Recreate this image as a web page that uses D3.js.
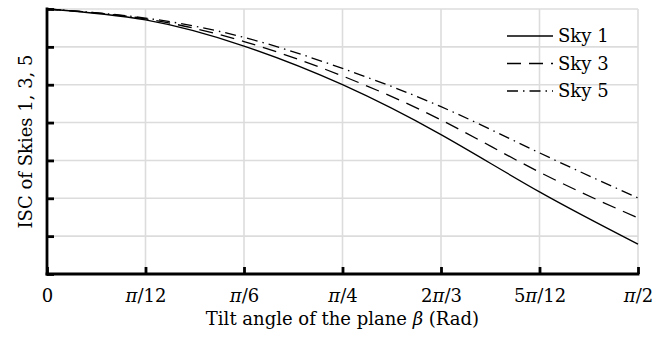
<!DOCTYPE html>
<html>
<head>
<meta charset="utf-8">
<script src="https://cdn.jsdelivr.net/npm/d3@7"></script>
<style>
body { margin: 0; background: #fff; }
svg text { font-family: "DejaVu Serif", "Liberation Serif", serif; fill: #000; }
</style>
</head>
<body>
<div id="chart"></div>
<script>
// tilt angle (multiples of pi/12) and the curves
var tiltSteps = [0, 1, 2, 3, 4, 5, 6];
var tickLabels = ["0", "π/12", "π/6", "π/4", "2π/3", "5π/12", "π/2"];
var sky1 = [1.000, 0.971, 0.902, 0.800, 0.668, 0.517, 0.379];
var sky3 = [1.000, 0.974, 0.914, 0.823, 0.707, 0.569, 0.448];
var sky5 = [1.000, 0.976, 0.925, 0.843, 0.742, 0.620, 0.501];
var yTicks = [0.3, 0.4, 0.5, 0.6, 0.7, 0.8, 0.9, 1.0];

var seriesNames = ["Sky 1", "Sky 3", "Sky 5"];
var seriesDash = [null, "14,8", "11,5,1.5,5"];

(function(){

var width = 667, height = 337;
var margin = {top: 9, right: 29, bottom: 63, left: 47};
var plotW = width - margin.left - margin.right;
var plotH = height - margin.top - margin.bottom;
var fs = 18;

var svg = d3.select("#chart").append("svg")
	.attr("width", width)
	.attr("height", height);

var g = svg.append("g")
	.attr("transform", "translate(" + margin.left + "," + margin.top + ")");

var x = d3.scaleLinear().domain([0, 6]).range([0, plotW]);
var y = d3.scaleLinear().domain([0.3, 1.0]).range([plotH, 0]);

// grid
g.append("g").selectAll("line")
	.data(tiltSteps)
	.enter().append("line")
	.attr("x1", function(d){ return x(d); })
	.attr("x2", function(d){ return x(d); })
	.attr("y1", 0)
	.attr("y2", plotH)
	.attr("stroke", "#dcdcdc")
	.attr("stroke-width", 1.6);

g.append("g").selectAll("line")
	.data(yTicks)
	.enter().append("line")
	.attr("x1", 0)
	.attr("x2", plotW)
	.attr("y1", function(d){ return y(d); })
	.attr("y2", function(d){ return y(d); })
	.attr("stroke", "#dcdcdc")
	.attr("stroke-width", 1.6);

// curves
var series = [sky1, sky3, sky5];
var line = d3.line()
	.x(function(d, i){ return x(tiltSteps[i]); })
	.y(function(d){ return y(d); })
	.curve(d3.curveNatural);

series.forEach(function(vals, i){
	g.append("path")
		.datum(vals)
		.attr("d", line)
		.attr("fill", "none")
		.attr("stroke", "#000")
		.attr("stroke-width", 1.3)
		.attr("stroke-dasharray", seriesDash[i]);
});

// axes
var xAxis = g.append("g")
	.attr("transform", "translate(0," + plotH + ")")
	.call(d3.axisBottom(x).tickValues(tiltSteps).tickSize(-7).tickFormat(""));

var yAxis = g.append("g")
	.call(d3.axisLeft(y).tickValues(yTicks).tickSize(-7).tickFormat(""));

[xAxis, yAxis].forEach(function(ax){
	ax.select(".domain").attr("stroke-width", 2.8);
	ax.selectAll(".tick line").attr("stroke-width", 2.8);
});
xAxis.select(".domain").attr("d", "M-1.4,0H" + (plotW + 1.4));
yAxis.select(".domain").attr("d", "M0,-1.4V" + (plotH + 1.4));

// x tick labels with italic pi
xAxis.selectAll(".tick").each(function(d, i){
	var t = d3.select(this).append("text")
		.attr("y", 28)
		.attr("text-anchor", "middle")
		.attr("font-size", fs);
	var parts = tickLabels[i].split("π");
	parts.forEach(function(p, j){
		if(j > 0){
			t.append("tspan").attr("font-style", "italic").text("π");
		}
		if(p){ t.append("tspan").text(p); }
	});
});

// axis titles
var xt = svg.append("text")
	.attr("x", margin.left + plotW / 2)
	.attr("y", 325)
	.attr("text-anchor", "middle")
	.attr("font-size", fs);
xt.append("tspan").text("Tilt angle of the plane ");
xt.append("tspan").attr("font-style", "italic").text("β");
xt.append("tspan").text(" (Rad)");

svg.append("text")
	.attr("transform", "translate(32," + (margin.top + plotH / 2) + ") rotate(-90)")
	.attr("text-anchor", "middle")
	.attr("font-size", fs)
	.text("ISC of Skies 1, 3, 5");

// legend
var legend = g.append("g").attr("transform", "translate(460,27)");
seriesNames.forEach(function(name, i){
	var row = legend.append("g").attr("transform", "translate(0," + (i * 27.5) + ")");
	row.append("line")
		.attr("x1", 0).attr("x2", 46)
		.attr("stroke", "#000")
		.attr("stroke-width", 1.3)
		.attr("stroke-dasharray", seriesDash[i]);
	row.append("text")
		.attr("x", 51)
		.attr("dy", "0.36em")
		.attr("font-size", fs)
		.text(name);
});

})();
</script>
</body>
</html>
